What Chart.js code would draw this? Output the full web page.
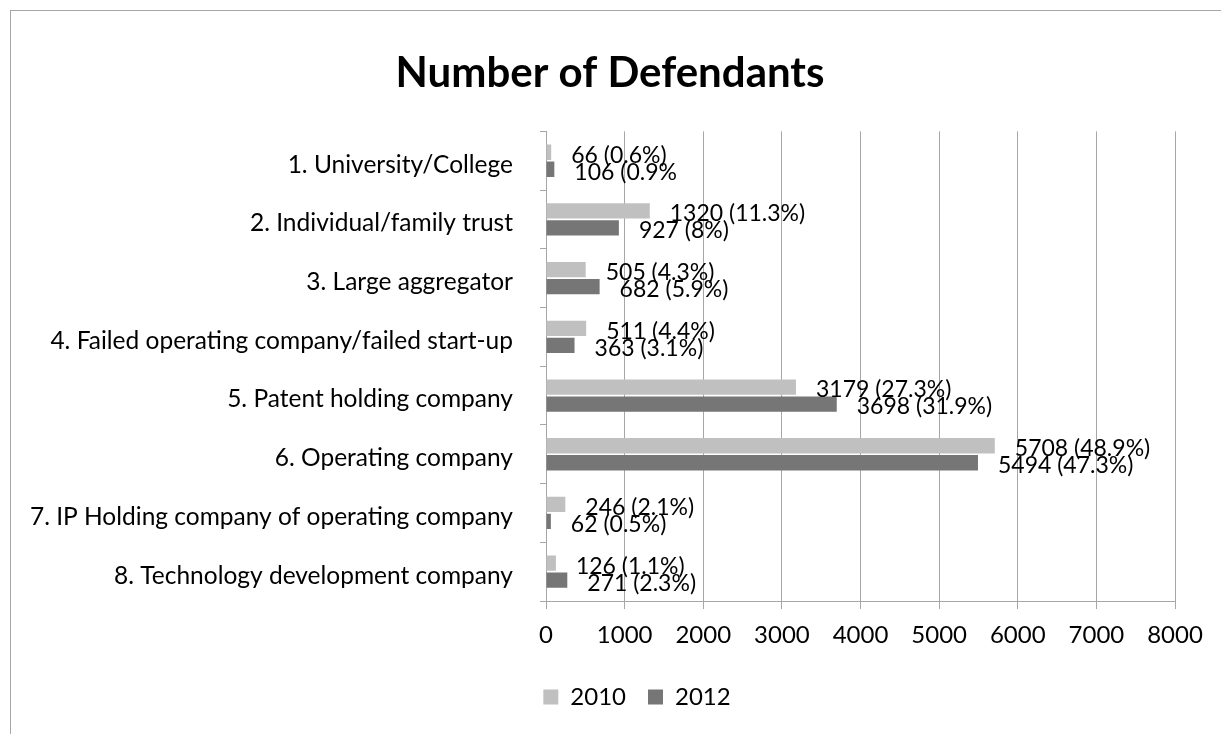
<!DOCTYPE html>
<html>
<head>
<meta charset="utf-8">
<script src="https://cdn.jsdelivr.net/npm/chart.js@4.4.1/dist/chart.umd.min.js"></script>
<style>
  html, body { margin: 0; padding: 0; background: #fff; }
  #wrap { position: relative; width: 1221px; height: 734px; overflow: hidden; }
  #frame { position: absolute; left: 10px; top: 10px; width: 1240px; height: 760px; border: 1px solid #a6a6a6; box-sizing: border-box; }
  canvas { position: absolute; left: 0; top: 0; }
</style>
</head>
<body>
<div id="wrap">
  <div id="frame"></div>
  <canvas id="c" width="1221" height="734"></canvas>
</div>
<script>
const categories = [
  "1. University/College",
  "2. Individual/family trust",
  "3. Large aggregator",
  "4. Failed operating company/failed start-up",
  "5. Patent holding company",
  "6. Operating company",
  "7. IP Holding company of operating company",
  "8. Technology development company"
];
const seriesNames = ["2010", "2012"];
const values2010 = [66, 1320, 505, 511, 3179, 5708, 246, 126];
const values2012 = [106, 927, 682, 363, 3698, 5494, 62, 271];
const labels2010 = ["66 (0.6%)", "1320 (11.3%)", "505 (4.3%)", "511 (4.4%)", "3179 (27.3%)", "5708 (48.9%)", "246 (2.1%)", "126 (1.1%)"];
const labels2012 = ["106 (0.9%", "927 (8%)", "682 (5.9%)", "363 (3.1%)", "3698 (31.9%)", "5494 (47.3%)", "62 (0.5%)", "271 (2.3%)"];
const xTicks = [0, 1000, 2000, 3000, 4000, 5000, 6000, 7000, 8000];

const FONT = "Lato";
const dataLabelSets = [labels2010, labels2012];

const dataLabelPlugin = {
  id: 'dataLabels',
  afterDatasetsDraw(chart) {
    const ctx = chart.ctx;
    ctx.save();
    ctx.font = "23px " + FONT;
    ctx.fillStyle = "#000";
    ctx.textAlign = "left";
    ctx.textBaseline = "middle";
    chart.data.datasets.forEach((ds, di) => {
      const meta = chart.getDatasetMeta(di);
      meta.data.forEach((el, i) => {
        ctx.fillText(dataLabelSets[di][i], el.x + 20, el.y + 3);
      });
    });
    ctx.restore();
  }
};

const boxShift = {
  id: 'boxShift',
  afterLayout(chart) {
    if (chart.titleBlock) { chart.titleBlock.left += 22.5; chart.titleBlock.right += 22.5; }
    if (chart.legend) { chart.legend.left += 49.5; chart.legend.right += 49.5; }
  }
};

new Chart(document.getElementById('c'), {
  type: 'bar',
  data: {
    labels: categories,
    datasets: [
      { label: seriesNames[0], data: values2010, backgroundColor: '#c0c0c0', categoryPercentage: 0.58, barPercentage: 0.9 },
      { label: seriesNames[1], data: values2012, backgroundColor: '#767676', categoryPercentage: 0.58, barPercentage: 0.9 }
    ]
  },
  options: {
    indexAxis: 'y',
    responsive: false,
    animation: false,
    layout: { padding: { left: 0, right: 46, top: 0, bottom: 15 } },
    plugins: {
      title: {
        display: true,
        text: 'Number of Defendants',
        color: '#000',
        font: { family: FONT, size: 42, weight: 'bold' },
        padding: { top: 48, bottom: 33 }
      },
      legend: {
        position: 'bottom',
        labels: {
          color: '#000',
          font: { family: FONT, size: 24 },
          boxWidth: 15, boxHeight: 15,
          padding: 22
        }
      },
      tooltip: { enabled: false }
    },
    scales: {
      x: {
        type: 'linear',
        min: 0, max: 8000,
        afterBuildTicks(scale) { scale.ticks = xTicks.map(v => ({ value: v })); },
        afterFit(scale) { scale.height = 62; },
        ticks: { color: '#000', font: { family: FONT, size: 24 }, padding: 12, callback: (v) => String(v) },
        grid: { color: '#a6a6a6', tickLength: 8, drawOnChartArea: true },
        border: { color: '#a6a6a6' }
      },
      y: {
        type: 'category',
        offset: true,
        afterFit(scale) { scale.width = 546; },
        ticks: { color: '#000', font: { family: FONT, size: 24.5 }, padding: 27, labelOffset: 4 },
        grid: { offset: true, drawOnChartArea: false, tickLength: 6, color: '#a6a6a6' },
        border: { color: '#a6a6a6' }
      }
    }
  },
  plugins: [dataLabelPlugin, boxShift]
});
</script>
</body>
</html>
